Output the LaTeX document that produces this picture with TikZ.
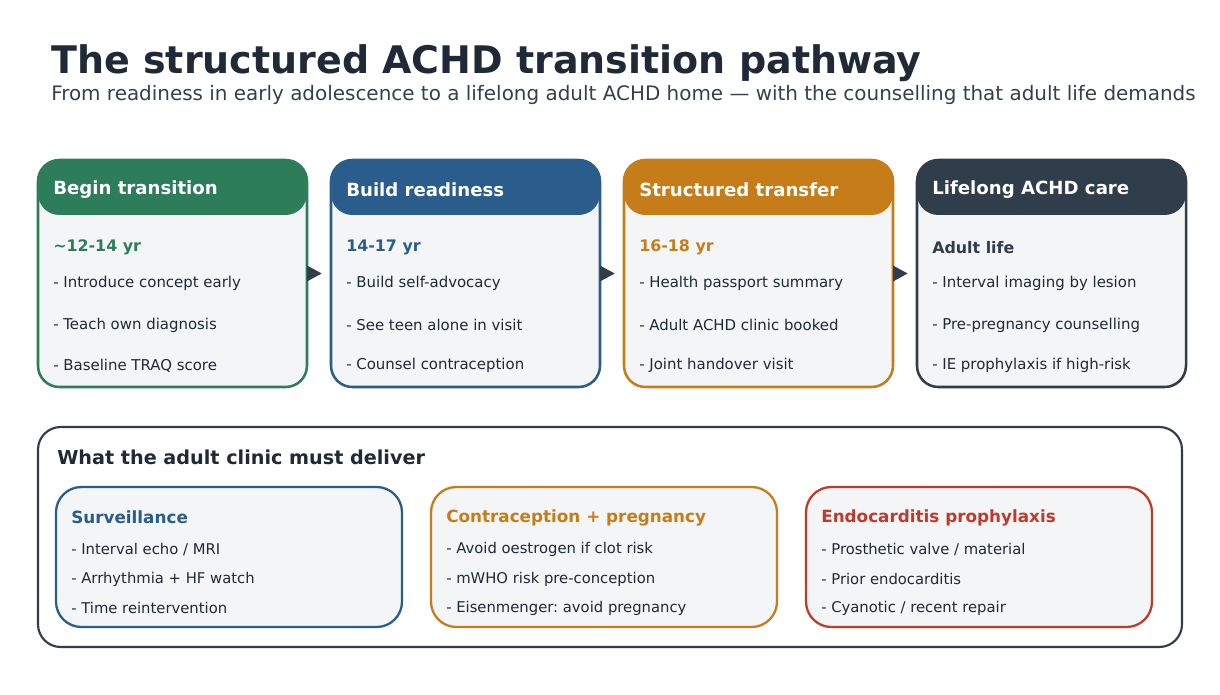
\documentclass[tikz,border=0pt]{standalone}
\usepackage{fontspec}
\setmainfont{DejaVu Sans}
\frenchspacing
\usetikzlibrary{arrows.meta, positioning}

\definecolor{ink}{RGB}{31,42,54}
\definecolor{subink}{RGB}{52,64,78}
\definecolor{panel}{RGB}{243,245,247}
\definecolor{cgreen}{RGB}{46,125,90}
\definecolor{cblue}{RGB}{42,93,140}
\definecolor{corange}{RGB}{199,124,26}
\definecolor{cdark}{RGB}{48,61,75}
\definecolor{cred}{RGB}{192,57,43}

\tikzset{
  stagebox/.style={draw, fill=panel, line width=1.9pt, rounded corners=16pt,
    minimum width=201.75pt, minimum height=170.25pt},
  sidebox/.style={draw, fill=panel, line width=1.7pt, rounded corners=19pt,
    minimum width=259.5pt, minimum height=105pt},
  headtxt/.style={anchor=west, inner sep=0pt, text=white, font=\bfseries\fontsize{13.6}{16}\selectfont},
  agetxt/.style={anchor=west, inner sep=0pt, font=\bfseries\fontsize{11.9}{14}\selectfont},
  itemtxt/.style={anchor=west, inner sep=0pt, text=ink, font=\fontsize{11.2}{13}\selectfont},
  flow/.style={-{Triangle[length=11pt,width=11.5pt]}, line width=1.5pt, cdark, shorten >=6pt}
}

\begin{document}
\begin{tikzpicture}[x=0.75pt,y=-0.75pt]
\useasboundingbox (0,0) rectangle (1220,695);

\node[anchor=west, inner sep=0pt, text=ink, font=\bfseries\fontsize{28.5}{34}\selectfont] (title) at (51,63) {The structured ACHD transition pathway};
\node[anchor=west, inner sep=0pt, text=subink, font=\fontsize{14.95}{18}\selectfont] (subtitle) at (51,95) {From readiness in early adolescence to a lifelong adult ACHD home — with the counselling that adult life demands};

% four stages of the pathway
\foreach \i/\x/\c/\head/\age/\ia/\ib/\ic in {
  1/172.5/cgreen/{Begin transition}/{\textasciitilde12-14 yr}/{Introduce concept early}/{Teach own diagnosis}/{Baseline TRAQ score},
  2/465.5/cblue/{Build readiness}/{14-17 yr}/{Build self-advocacy}/{See teen alone in visit}/{Counsel contraception},
  3/758.5/corange/{Structured transfer}/{16-18 yr}/{Health passport summary}/{Adult ACHD clinic booked}/{Joint handover visit},
  4/1051.5/cdark/{Lifelong ACHD care}/{Adult life}/{Interval imaging by lesion}/{Pre-pregnancy counselling}/{IE prophylaxis if high-risk}}{
  \node[stagebox, draw=\c] (stage-\i) at (\x,273.5) {};
  \fill[\c, rounded corners=16pt] (\x-134.5,160) rectangle (\x+134.5,215);
  \node[headtxt] (head-\i) at (\x-119.5,189.5) {\head};
  \node[agetxt, text=\c] (age-\i) at (\x-119.5,247.5) {\age};
  \node[itemtxt] (item-\i-a) at (\x-119.5,283.5) {- \ia};
  \node[itemtxt] (item-\i-b) at (\x-119.5,325) {- \ib};
  \node[itemtxt] (item-\i-c) at (\x-119.5,365.5) {- \ic};
};
\foreach \i/\j in {1/2,2/3,3/4}{
  \draw[flow] (stage-\i.east) -- (stage-\j.west);
};

% what the adult clinic has to cover
\node[draw=cdark, fill=white, line width=1.6pt, rounded corners=17pt,
  minimum width=858pt, minimum height=165pt] (clinic) at (610,537) {};
\node[anchor=west, inner sep=0pt, text=ink, font=\bfseries\fontsize{14.4}{17}\selectfont] (clinic-head) at (57,457.5) {What the adult clinic must deliver};

\foreach \i/\x/\c/\head/\ia/\ib/\ic in {
  1/229/cblue/{Surveillance}/{Interval echo / MRI}/{Arrhythmia + HF watch}/{Time reintervention},
  2/604/corange/{Contraception + pregnancy}/{Avoid oestrogen if clot risk}/{mWHO risk pre-conception}/{Eisenmenger: avoid pregnancy},
  3/979/cred/{Endocarditis prophylaxis}/{Prosthetic valve / material}/{Prior endocarditis}/{Cyanotic / recent repair}}{
  \node[sidebox, draw=\c] (need-\i) at (\x,557) {};
  \node[agetxt, text=\c, font=\bfseries\fontsize{12.6}{15}\selectfont] (need-head-\i) at (\x-158,517.5) {\head};
  \node[itemtxt, font=\fontsize{11.1}{13}\selectfont] (need-\i-a) at (\x-158,549.5) {- \ia};
  \node[itemtxt, font=\fontsize{11.1}{13}\selectfont] (need-\i-b) at (\x-158,579) {- \ib};
  \node[itemtxt, font=\fontsize{11.1}{13}\selectfont] (need-\i-c) at (\x-158,608) {- \ic};
};
\end{tikzpicture}
\end{document}
